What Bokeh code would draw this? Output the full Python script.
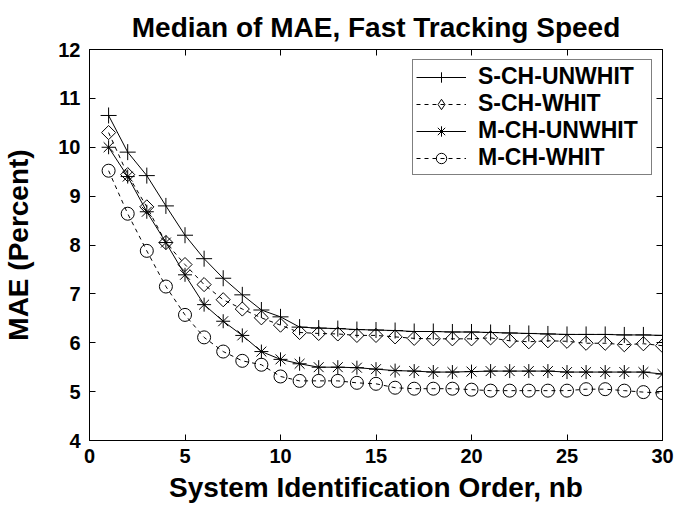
from bokeh.plotting import figure
from bokeh.models import LinearAxis, Legend, LegendItem, FixedTicker, Range1d
from bokeh.embed import file_html
from bokeh.resources import INLINE
import math

order = list(range(1, 31))
s_ch_unwhit = [10.65, 9.90, 9.42, 8.80, 8.20, 7.72, 7.32, 6.98, 6.67, 6.53,
               6.32, 6.30, 6.29, 6.27, 6.26, 6.25, 6.23, 6.23, 6.22, 6.22,
               6.21, 6.20, 6.19, 6.18, 6.17, 6.17, 6.17, 6.16, 6.16, 6.15]
s_ch_whit = [10.30, 9.44, 8.78, 8.05, 7.60, 7.19, 6.88, 6.69, 6.51, 6.36,
             6.21, 6.19, 6.18, 6.15, 6.15, 6.12, 6.09, 6.08, 6.08, 6.08,
             6.10, 6.04, 6.02, 6.04, 6.03, 5.99, 5.99, 5.96, 5.98, 5.94]
m_ch_unwhit = [10.00, 9.40, 8.68, 8.05, 7.39, 6.78, 6.44, 6.15, 5.82, 5.66,
               5.57, 5.50, 5.50, 5.49, 5.46, 5.43, 5.42, 5.40, 5.40, 5.41,
               5.42, 5.42, 5.42, 5.42, 5.40, 5.40, 5.40, 5.40, 5.40, 5.36]
m_ch_whit = [9.52, 8.64, 7.88, 7.15, 6.57, 6.11, 5.82, 5.63, 5.55, 5.31,
             5.22, 5.22, 5.22, 5.18, 5.16, 5.08, 5.06, 5.06, 5.06, 5.04,
             5.02, 5.02, 5.02, 5.02, 5.02, 5.05, 5.05, 5.02, 4.99, 4.97]
series_names = ["S-CH-UNWHIT", "S-CH-WHIT", "M-CH-UNWHIT", "M-CH-WHIT"]
x_ticks = [0, 5, 10, 15, 20, 25, 30]
y_ticks = [4, 5, 6, 7, 8, 9, 10, 11, 12]
title_text = "Median of MAE, Fast Tracking Speed"

FONT = "Liberation Sans"

p = figure(width=691, height=505, output_backend="svg", toolbar_location=None,
           x_range=Range1d(0, 30), y_range=Range1d(4, 12),
           min_border_left=89, min_border_right=29, min_border_top=49,
           min_border_bottom=65)
p.background_fill_color = "white"
p.border_fill_color = "white"
p.outline_line_color = "black"
p.outline_line_width = 1
p.grid.visible = False

p.title.text = title_text
p.title.align = "center"
p.title.text_font = FONT
p.title.text_font_size = "28px"
p.title.text_font_style = "bold"
p.title.text_color = "black"
p.title.standoff = 14

def style_axis(ax, ticks, labels=True):
    ax.ticker = FixedTicker(ticks=ticks)
    ax.major_tick_in = 6
    ax.major_tick_out = 0
    ax.minor_tick_in = 0
    ax.minor_tick_out = 0
    ax.axis_line_color = "black"
    ax.major_tick_line_color = "black"
    ax.major_label_text_font = FONT
    ax.major_label_text_font_style = "bold"
    ax.major_label_text_font_size = "20px"
    ax.major_label_text_color = "black"
    ax.axis_label_text_font = FONT
    ax.axis_label_text_font_style = "bold"
    ax.axis_label_text_font_size = "28px"
    ax.axis_label_text_color = "black"
    if not labels:
        ax.major_label_text_font_size = "0px"
        ax.major_label_standoff = 0

style_axis(p.xaxis[0], x_ticks)
style_axis(p.yaxis[0], y_ticks)
p.xaxis[0].axis_label = "System Identification Order, nb"
p.yaxis[0].axis_label = "MAE (Percent)"
p.xaxis[0].major_label_standoff = 8
p.yaxis[0].major_label_standoff = 9
p.xaxis[0].axis_label_standoff = 6
p.yaxis[0].axis_label_standoff = 21

top_ax = LinearAxis()
style_axis(top_ax, x_ticks, labels=False)
p.add_layout(top_ax, "above")
right_ax = LinearAxis()
style_axis(right_ax, y_ticks, labels=False)
p.add_layout(right_ax, "right")

items = []
specs = [
    (s_ch_unwhit, "solid", "cross", 16, 0, "cross"),
    (s_ch_whit, "4 4", "square", 10, math.pi / 4, "diamond"),
    (m_ch_unwhit, "solid", "asterisk", 14, 0, "asterisk"),
    (m_ch_whit, "4 4", "circle", 13, 0, "circle"),
]
for name, (vals, dash, marker, size, ang, leg_marker) in zip(series_names, specs):
    ln = p.line(order, vals, line_color="black", line_width=1, line_dash=dash)
    sc = p.scatter(order, vals, marker=marker, size=size, angle=ang,
                   line_color="black", line_width=1, fill_color=None)
    if leg_marker != marker:
        dummy = p.scatter(order, vals, marker=leg_marker, size=size,
                          line_color="black", line_width=1, fill_color=None,
                          visible=False)
        items.append(LegendItem(label=name, renderers=[ln, dummy]))
    else:
        items.append(LegendItem(label=name, renderers=[ln, sc]))

legend = Legend(items=items, location="top_right")
legend.margin = 10
legend.padding = 3
legend.spacing = 0
legend.glyph_width = 50
legend.glyph_height = 26
legend.label_height = 26
legend.label_standoff = 12
legend.label_width = 170
legend.label_text_font = FONT
legend.label_text_font_style = "bold"
legend.label_text_font_size = "23px"
legend.label_text_line_height = 1.0
legend.label_text_color = "black"
legend.border_line_color = "black"
legend.border_line_width = 1
legend.background_fill_color = "white"
legend.background_fill_alpha = 1
legend.inactive_fill_alpha = 0
p.add_layout(legend, "center")

open("out.html", "w").write(file_html(p, INLINE))
